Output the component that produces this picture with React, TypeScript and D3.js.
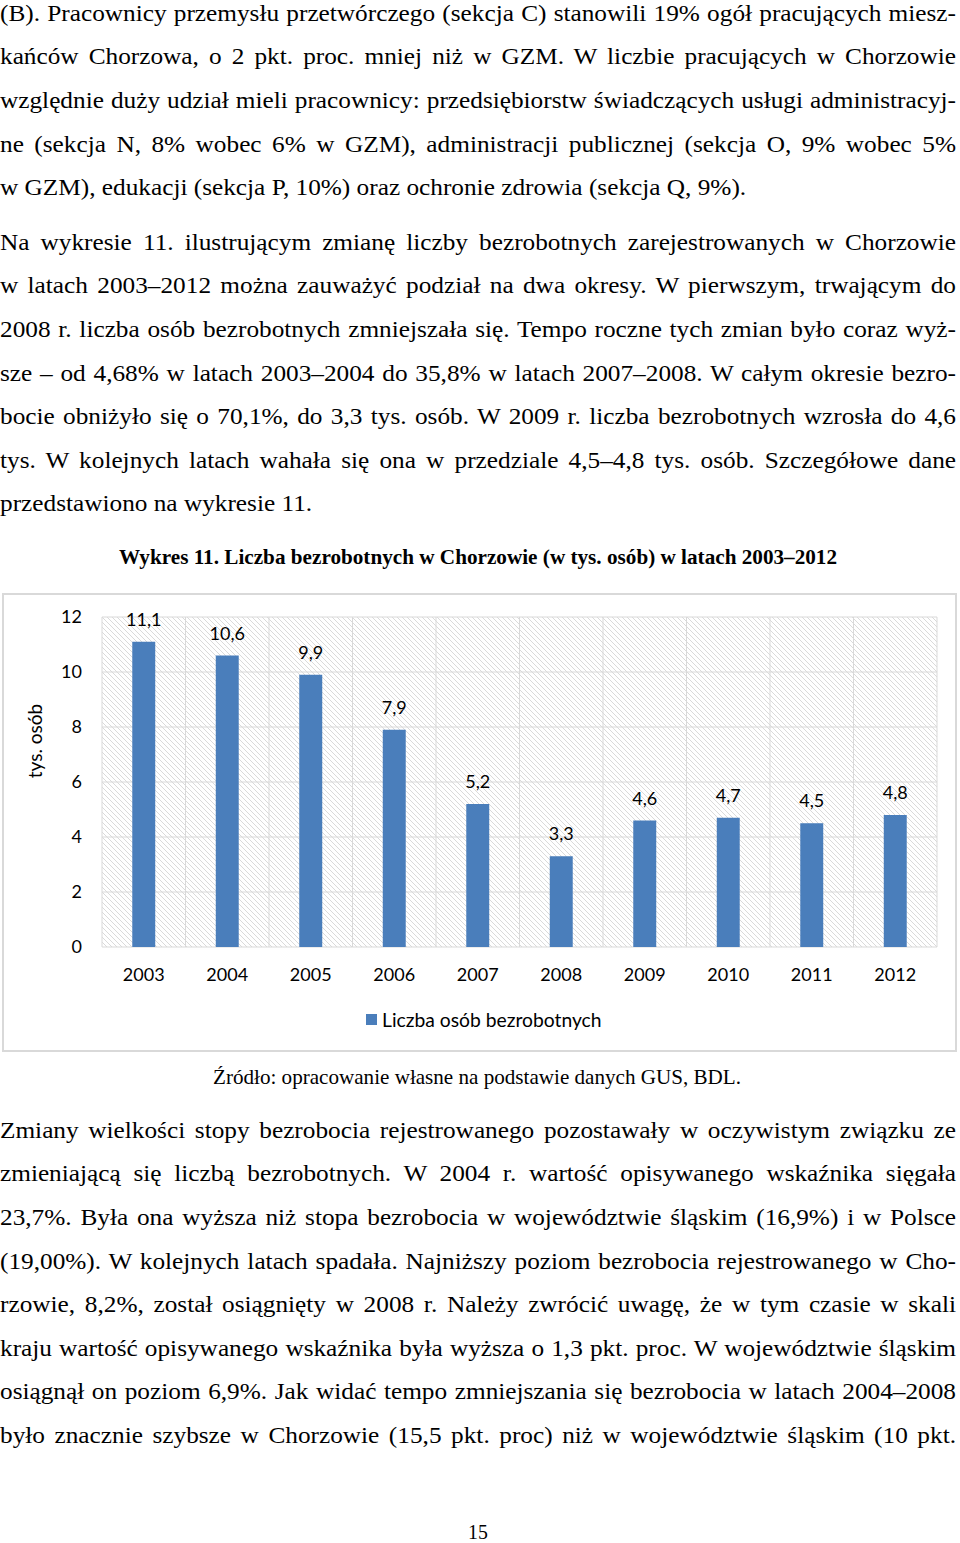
import React, { useEffect, useRef } from "react";
import * as d3 from "d3";

const years = ["2003", "2004", "2005", "2006", "2007", "2008", "2009", "2010", "2011", "2012"];
const unemployed = [11.1, 10.6, 9.9, 7.9, 5.2, 3.3, 4.6, 4.7, 4.5, 4.8];
const yTicks = [0, 2, 4, 6, 8, 10, 12];
const seriesName = "Liczba osób bezrobotnych";
const yAxisTitle = "tys. osób";
const chartTitle = "Wykres 11. Liczba bezrobotnych w Chorzowie (w tys. osób) w latach 2003–2012";
const sourceText = "Źródło: opracowanie własne na podstawie danych GUS, BDL.";
const pageNumber = "15";

const para1 = [
  "(B). Pracownicy przemysłu przetwórczego (sekcja C) stanowili 19% ogół pracujących miesz-",
  "kańców Chorzowa, o 2 pkt. proc. mniej niż w GZM. W liczbie pracujących w Chorzowie",
  "względnie duży udział mieli pracownicy: przedsiębiorstw świadczących usługi administracyj-",
  "ne (sekcja N, 8% wobec 6% w GZM), administracji publicznej (sekcja O, 9% wobec 5%",
  "w GZM), edukacji (sekcja P, 10%) oraz ochronie zdrowia (sekcja Q, 9%).",
];
const para2 = [
  "Na wykresie 11. ilustrującym zmianę liczby bezrobotnych zarejestrowanych w Chorzowie",
  "w latach 2003–2012 można zauważyć podział na dwa okresy. W pierwszym, trwającym do",
  "2008 r. liczba osób bezrobotnych zmniejszała się. Tempo roczne tych zmian było coraz wyż-",
  "sze – od 4,68% w latach 2003–2004 do 35,8% w latach 2007–2008. W całym okresie bezro-",
  "bocie obniżyło się o 70,1%, do 3,3 tys. osób. W 2009 r. liczba bezrobotnych wzrosła do 4,6",
  "tys. W kolejnych latach wahała się ona w przedziale 4,5–4,8 tys. osób. Szczegółowe dane",
  "przedstawiono na wykresie 11.",
];
const para3 = [
  "Zmiany wielkości stopy bezrobocia rejestrowanego pozostawały w oczywistym związku ze",
  "zmieniającą się liczbą bezrobotnych. W 2004 r. wartość opisywanego wskaźnika sięgała",
  "23,7%. Była ona wyższa niż stopa bezrobocia w województwie śląskim (16,9%) i w Polsce",
  "(19,00%). W kolejnych latach spadała. Najniższy poziom bezrobocia rejestrowanego w Cho-",
  "rzowie, 8,2%, został osiągnięty w 2008 r. Należy zwrócić uwagę, że w tym czasie w skali",
  "kraju wartość opisywanego wskaźnika była wyższa o 1,3 pkt. proc. W województwie śląskim",
  "osiągnął on poziom 6,9%. Jak widać tempo zmniejszania się bezrobocia w latach 2004–2008",
  "było znacznie szybsze w Chorzowie (15,5 pkt. proc) niż w województwie śląskim (10 pkt.",
];

export default function App() {
  const ref = useRef<SVGSVGElement | null>(null);

  useEffect(() => {
    const svg = d3.select(ref.current);
    svg.selectAll("*").remove();

    const serif = "'Liberation Serif', 'Times New Roman', serif";
    const sans = "Lato, 'Open Sans', sans-serif";
    const textRight = 956;
    const lineGap = 43.6;
    const bodySize = 23;
    const stretch = 1.1;

    const body = svg.append("g").attr("transform", `scale(${stretch},1)`);

    const drawParagraph = (lines: string[], firstBaseline: number, justifyLast: boolean) => {
      lines.forEach((line, i) => {
        const t = body
          .append("text")
          .attr("x", 0)
          .attr("y", firstBaseline + i * lineGap)
          .attr("font-family", serif)
          .attr("font-size", bodySize)
          .attr("fill", "#000")
          .style("white-space", "pre")
          .text(line);
        const isLast = i === lines.length - 1;
        if (!isLast || justifyLast) {
          const node = t.node() as SVGTextElement;
          const len = node.getComputedTextLength();
          const spaces = (line.match(/ /g) || []).length;
          if (spaces > 0) {
            const ws = (textRight / stretch - len) / spaces;
            t.style("word-spacing", `${ws}px`);
          }
        }
      });
    };

    drawParagraph(para1, 20.8, false);
    drawParagraph(para2, 249.8, false);
    drawParagraph(para3, 1137.8, true);

    const centered = (txt: string, cx: number, yb: number, size: number, sx: number, bold: boolean) => {
      svg
        .append("g")
        .attr("transform", `translate(${cx},${yb}) scale(${sx},1)`)
        .append("text")
        .attr("x", 0)
        .attr("y", 0)
        .attr("text-anchor", "middle")
        .attr("font-family", serif)
        .attr("font-weight", bold ? "bold" : "normal")
        .attr("font-size", size)
        .attr("fill", "#000")
        .text(txt);
    };

    centered(chartTitle, 478, 564, 20, 1.06, true);
    centered(sourceText, 477, 1084, 20, 1.056, false);
    centered(pageNumber, 478, 1539, 22, 0.9, false);

    // Chart
    const defs = svg.append("defs");
    const pat = defs
      .append("pattern")
      .attr("id", "hatch")
      .attr("patternUnits", "userSpaceOnUse")
      .attr("width", 5)
      .attr("height", 5);
    pat
      .append("path")
      .attr("d", "M0,0 L5,5 M-1,4 L1,6 M4,-1 L6,1")
      .attr("stroke", "#dadada")
      .attr("stroke-width", 1);

    svg
      .append("rect")
      .attr("x", 3)
      .attr("y", 594)
      .attr("width", 953)
      .attr("height", 457)
      .attr("fill", "#fff")
      .attr("stroke", "#d9d9d9")
      .attr("stroke-width", 2);

    const left = 102;
    const right = 937;
    const top = 617;
    const bottom = 947;

    const x = d3.scaleBand().domain(years).range([left, right]).paddingInner(0).paddingOuter(0);
    const y = d3.scaleLinear().domain([0, 12]).range([bottom, top]);

    svg
      .append("rect")
      .attr("x", left)
      .attr("y", top)
      .attr("width", right - left)
      .attr("height", bottom - top)
      .attr("fill", "url(#hatch)");

    const grid = svg.append("g");
    yTicks.forEach((v) => {
      grid
        .append("line")
        .attr("x1", left)
        .attr("x2", right)
        .attr("y1", y(v))
        .attr("y2", y(v))
        .attr("stroke", "#d9d9d9")
        .attr("stroke-width", 1);
    });
    const boundaries = years.map((yr) => x(yr) as number).concat([right]);
    boundaries.forEach((bx) => {
      grid
        .append("line")
        .attr("x1", bx)
        .attr("x2", bx)
        .attr("y1", top)
        .attr("y2", bottom)
        .attr("stroke", "#d9d9d9")
        .attr("stroke-width", 1);
    });

    const barW = x.bandwidth() * 0.275;
    svg
      .append("g")
      .selectAll("rect")
      .data(years)
      .join("rect")
      .attr("x", (d) => (x(d) as number) + x.bandwidth() / 2 - barW / 2)
      .attr("y", (d, i) => y(unemployed[i]))
      .attr("width", barW)
      .attr("height", (d, i) => bottom - y(unemployed[i]))
      .attr("fill", "#4a7ebb");

    svg
      .append("g")
      .selectAll("text")
      .data(years)
      .join("text")
      .attr("x", (d) => (x(d) as number) + x.bandwidth() / 2)
      .attr("y", (d, i) => y(unemployed[i]) - 16)
      .attr("text-anchor", "middle")
      .attr("font-family", sans)
      .attr("font-size", 18)
      .attr("fill", "#000")
      .text((d, i) => String(unemployed[i]).replace(".", ","));

    svg
      .append("g")
      .selectAll("text")
      .data(yTicks)
      .join("text")
      .attr("x", 82)
      .attr("y", (d) => y(d))
      .attr("dy", "0.35em")
      .attr("text-anchor", "end")
      .attr("font-family", sans)
      .attr("font-size", 18)
      .attr("fill", "#000")
      .text((d) => String(d));

    svg
      .append("g")
      .selectAll("text")
      .data(years)
      .join("text")
      .attr("x", (d) => (x(d) as number) + x.bandwidth() / 2)
      .attr("y", 975)
      .attr("dy", "0.35em")
      .attr("text-anchor", "middle")
      .attr("font-family", sans)
      .attr("font-size", 18)
      .attr("fill", "#000")
      .text((d) => d);

    svg
      .append("text")
      .attr("transform", "translate(35,741) rotate(-90)")
      .attr("dy", "0.35em")
      .attr("text-anchor", "middle")
      .attr("font-family", sans)
      .attr("font-size", 19)
      .attr("fill", "#000")
      .text(yAxisTitle);

    svg
      .append("rect")
      .attr("x", 366)
      .attr("y", 1014)
      .attr("width", 11)
      .attr("height", 11)
      .attr("fill", "#4a7ebb");
    svg
      .append("text")
      .attr("x", 382)
      .attr("y", 1020)
      .attr("dy", "0.35em")
      .attr("font-family", sans)
      .attr("font-size", 19.3)
      .attr("fill", "#000")
      .text(seriesName);
  }, []);

  return (
    <svg
      ref={ref}
      width={960}
      height={1543}
      style={{ position: "absolute", left: 0, top: 0, background: "#fff" }}
    />
  );
}
